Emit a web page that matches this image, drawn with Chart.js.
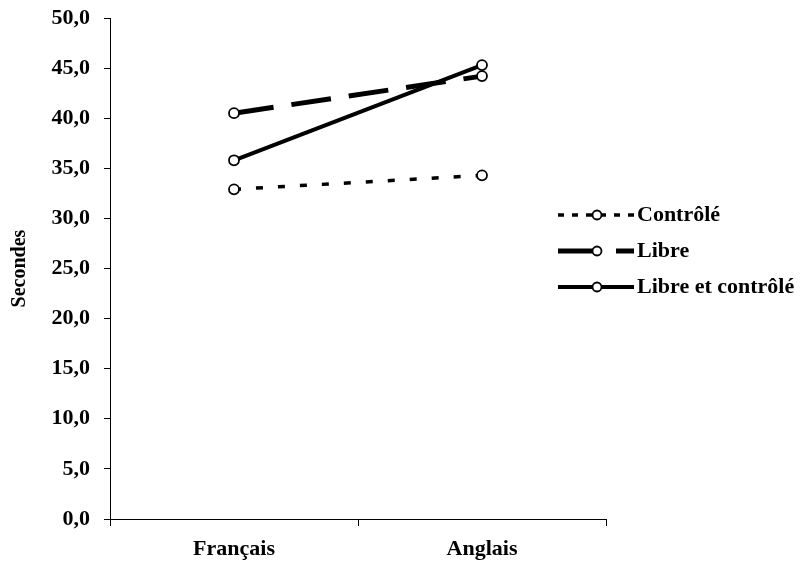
<!DOCTYPE html>
<html>
<head>
<meta charset="utf-8">
<script src="https://cdn.jsdelivr.net/npm/chart.js@4.4.1/dist/chart.umd.min.js"></script>
<style>
  html, body { margin: 0; padding: 0; background: #fff; }
  #wrap { width: 804px; height: 568px; }
</style>
</head>
<body>
<div id="wrap"><canvas id="chart"></canvas></div>
<script>
// ─── data ───
const categories = ['Français', 'Anglais'];
const seriesNames = ['Contrôlé', 'Libre', 'Libre et contrôlé'];
const controle = [32.9, 34.3];
const libre = [40.5, 44.2];
const libreEtControle = [35.8, 45.3];
const yTicks = [0, 5, 10, 15, 20, 25, 30, 35, 40, 45, 50];

const serif = "'Liberation Serif', 'Times New Roman', serif";

// ─── style per series ───
const styles = [
  { width: 3.5, dash: [7, 15] },
  { width: 5, dash: [40, 18] },
  { width: 4, dash: [] }
];
const values = [controle, libre, libreEtControle];

const datasets = seriesNames.map((name, i) => ({
  label: name,
  data: values[i],
  borderColor: '#000',
  borderWidth: styles[i].width,
  borderDash: styles[i].dash,
  pointRadius: 5,
  pointBorderWidth: 1.8,
  pointBackgroundColor: '#fff',
  pointBorderColor: '#000',
  fill: false,
  tension: 0
}));

// legend drawn to mimic the old spreadsheet look
const sideLegend = {
  id: 'sideLegend',
  afterDraw(chart) {
    const ctx = chart.ctx;
    const rows = [215, 251, 287];
    ctx.save();
    chart.data.datasets.forEach((ds, i) => {
      const y = rows[i];
      ctx.strokeStyle = '#000';
      ctx.lineWidth = ds.borderWidth;
      ctx.setLineDash(i === 0 ? [6, 8] : i === 1 ? [36, 22] : []);
      ctx.beginPath();
      ctx.moveTo(558, y);
      ctx.lineTo(634, y);
      ctx.stroke();
      ctx.setLineDash([]);
      ctx.beginPath();
      ctx.arc(597, y, 4.5, 0, Math.PI * 2);
      ctx.fillStyle = '#fff';
      ctx.fill();
      ctx.lineWidth = 1.8;
      ctx.stroke();
      ctx.fillStyle = '#000';
      ctx.font = 'bold 22px ' + serif;
      ctx.textAlign = 'left';
      ctx.textBaseline = 'middle';
      ctx.fillText(ds.label, 637, y);
    });
    ctx.restore();
  }
};

new Chart(document.getElementById('chart'), {
  type: 'line',
  data: { labels: categories, datasets },
  plugins: [sideLegend],
  options: {
    responsive: true, maintainAspectRatio: false, animation: false,
    layout: { padding: { top: 18, right: 198, left: 0, bottom: 0 } },
    plugins: { legend: { display: false }, tooltip: { enabled: false } },
    scales: {
      x: {
        type: 'category', offset: true,
        grid: { offset: true, drawOnChartArea: false, tickLength: 7, color: '#000' },
        border: { color: '#000', width: 1 },
        ticks: { color: '#000', font: { family: serif, size: 22, weight: 'bold' }, padding: 10 },
        afterFit: s => { s.height = 49; s.paddingLeft = 0; s.paddingRight = 0; }
      },
      y: {
        min: 0, max: 50,
        afterBuildTicks: s => { s.ticks = yTicks.map(v => ({ value: v })); },
        grid: { drawOnChartArea: false, tickLength: 6, color: '#000' },
        border: { color: '#000', width: 1 },
        ticks: {
          color: '#000', padding: 14,
          font: { family: serif, size: 22, weight: 'bold' },
          callback: v => v.toFixed(1).replace('.', ',')
        },
        title: {
          display: true, text: 'Secondes', color: '#000',
          font: { family: serif, size: 20, weight: 'bold' },
          padding: { top: 8, bottom: 0 }
        },
        afterFit: s => { s.width = 110; s.paddingTop = 0; s.paddingBottom = 0; }
      }
    }
  }
});
</script>
</body>
</html>
